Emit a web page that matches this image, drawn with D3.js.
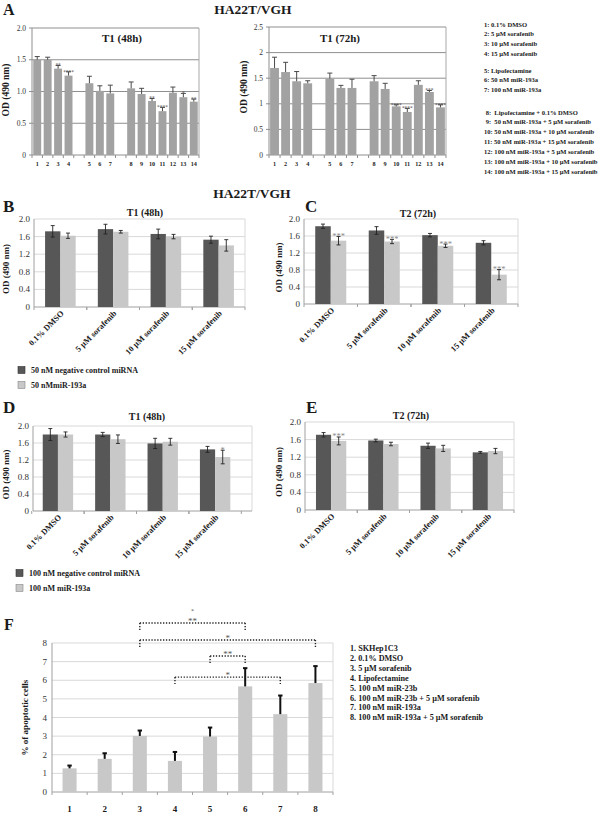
<!DOCTYPE html>
<html><head><meta charset="utf-8">
<script src="https://cdn.jsdelivr.net/npm/d3@7"></script>
<style>
body{margin:0;background:#fff}
text{font-family:"Liberation Serif","Times New Roman",serif;fill:#1a1a1a}
.pre{white-space:pre}
</style>
</head><body><svg id="c" width="600" height="816"></svg>
<script>
// ---------------- DATA ----------------
const cellLine = "HA22T/VGH";
// Panel A
const aCategories = ["1","2","3","4","5","6","7","8","9","10","11","12","13","14"];
const aGroupSizes = [4, 3, 7];
const a48Values = [1.50,1.50,1.36,1.25,1.13,1.01,0.97,1.05,0.96,0.85,0.69,0.98,0.91,0.84];
const a48Errors = [0.05,0.04,0.05,0.06,0.11,0.08,0.13,0.10,0.09,0.04,0.06,0.09,0.06,0.04];
const a48Sig    = ["","","**","****","","","","","","**","****","","*","**"];
const a48Ticks  = [0,0.5,1,1.5,2];
const a48TickLabels = ["0","0.5","1.0","1.5","2.0"];
const a72Values = [1.70,1.62,1.44,1.40,1.49,1.31,1.31,1.44,1.29,0.95,0.84,1.37,1.23,0.93];
const a72Errors = [0.21,0.19,0.19,0.05,0.11,0.05,0.17,0.11,0.11,0.03,0.07,0.08,0.03,0.05];
const a72Sig    = ["","","","","","","","","","****","****","","***","****"];
const a72Ticks  = [0,0.5,1,1.5,2,2.5];
const a72TickLabels = ["0","0.5","1","1.5","2","2.5"];
const aLegend = [
  ["1: 0.1% DMSO","2: 5 µM sorafenib","3: 10 µM sorafenib","4: 15 µM sorafenib"],
  ["5: Lipofectamine","6: 50 nM miR-193a","7: 100 nM miR-193a"],
  [" 8:  Lipofectamine + 0.1% DMSO"," 9:  50 nM miR-193a + 5 µM sorafenib","10: 50 nM miR-193a + 10 µM sorafenib",
   "11: 50 nM miR-193a + 15 µM sorafenib","12: 100 nM miR-193a + 5 µM sorafenib","13: 100 nM miR-193a + 10 µM sorafenib",
   "14: 100 nM miR-193a + 15 µM sorafenib"]
];
// Panels B-E
const treatments = ["0.1% DMSO","5 µM sorafenib","10 µM sorafenib","15 µM sorafenib"];
const groupedTicks = [0,0.4,0.8,1.2,1.6,2.0];
const groupedTickLabels = ["0","0.4","0.8","1.2","1.6","2.0"];
const bControl = [1.72,1.77,1.66,1.53], bControlErr = [0.13,0.11,0.11,0.08];
const bMir     = [1.62,1.71,1.60,1.40], bMirErr     = [0.06,0.03,0.05,0.13];
const bSig     = ["","","",""];
const cControl = [1.83,1.73,1.62,1.44], cControlErr = [0.05,0.09,0.04,0.05];
const cMir     = [1.49,1.47,1.37,0.69], cMirErr     = [0.10,0.05,0.04,0.12];
const cSig     = ["***","***","***","***"];
const dControl = [1.80,1.80,1.59,1.45], dControlErr = [0.14,0.05,0.12,0.07];
const dMir     = [1.80,1.69,1.63,1.27], dMirErr     = [0.06,0.10,0.08,0.16];
const dSig     = ["","","","*"];
const eControl = [1.71,1.58,1.46,1.31], eControlErr = [0.05,0.03,0.06,0.02];
const eMir     = [1.57,1.50,1.40,1.34], eMirErr     = [0.09,0.04,0.07,0.06];
const eSig     = ["***","","",""];
const legend50  = ["50 nM negative control miRNA","50 nMmiR-193a"];
const legend100 = ["100 nM negative control miRNA","100 nM miR-193a"];
// Panel F
const fCategories = ["1","2","3","4","5","6","7","8"];
const fValues = [1.27,1.78,3.01,1.67,2.98,5.67,4.18,5.85];
const fErrors = [0.15,0.30,0.29,0.48,0.48,0.98,1.00,0.91];
const fTicks  = [0,1,2,3,4,5,6,7,8];
const fBrackets = [
  {from:"3", to:"6", level:9.07, label:"**", top:"*"},
  {from:"3", to:"8", level:8.16, label:"*"},
  {from:"5", to:"6", level:7.30, label:"**"},
  {from:"4", to:"7", level:6.17, label:"*"}
];
const fLegend = ["1. SKHep1C3","2. 0.1% DMSO","3. 5 µM sorafenib","4. Lipofectamine","5. 100 nM miR-23b",
  "6. 100 nM miR-23b + 5 µM sorafenib","7. 100 nM miR-193a","8. 100 nM miR-193a + 5 µM sorafenib"];

// ---------------- DRAWING ----------------
const svg = d3.select("#c");
svg.append("rect").attr("width",600).attr("height",816).attr("fill","#fff");

function txt(g,x,y,s,size,opt={}){
  const t = g.append("text").attr("x",x).attr("y",y).text(s)
    .attr("font-size",size).attr("font-weight",opt.bold?"bold":"normal")
    .attr("text-anchor",opt.anchor||"start");
  if(opt.fill) t.style("fill",opt.fill);
  if(opt.cls) t.attr("class",opt.cls);
  return t;
}
function ylab(g,x,cy,s,size){
  g.append("text").attr("transform",`translate(${x},${cy}) rotate(-90)`).attr("dy","0.35em")
   .attr("text-anchor","middle").attr("font-size",size).attr("font-weight","bold").text(s);
}

// Panel A charts
function panelA(cfg){
  const g = svg.append("g");
  const keys = []; let idx = 0;
  aGroupSizes.forEach((n,gi)=>{ if(gi>0) keys.push("gap"+gi); for(let k=0;k<n;k++) keys.push(aCategories[idx++]); });
  const x = d3.scaleBand().domain(keys).range([cfg.x0,cfg.x1]).paddingInner(cfg.pad).paddingOuter(cfg.pad/2);
  const y = d3.scaleLinear().domain([0,d3.max(cfg.ticks)]).range([cfg.y0,cfg.yTop]);
  g.selectAll(".gl").data(cfg.ticks.filter(t=>t>0)).join("line")
    .attr("x1",cfg.x0).attr("x2",cfg.x1).attr("y1",d=>y(d)).attr("y2",d=>y(d))
    .attr("stroke","#8f8f8f").attr("stroke-width",1);
  g.append("line").attr("x1",cfg.x1).attr("x2",cfg.x1).attr("y1",cfg.yTop).attr("y2",cfg.y0).attr("stroke","#a8a8a8");
  g.append("line").attr("x1",cfg.x0).attr("x2",cfg.x0).attr("y1",cfg.yTop).attr("y2",cfg.y0).attr("stroke","#8f8f8f");
  g.append("line").attr("x1",cfg.x0).attr("x2",cfg.x1).attr("y1",cfg.y0).attr("y2",cfg.y0).attr("stroke","#8f8f8f");
  g.selectAll(".yt").data(cfg.ticks).join("line")
    .attr("x1",cfg.x0-3).attr("x2",cfg.x0).attr("y1",d=>y(d)).attr("y2",d=>y(d)).attr("stroke","#8f8f8f");
  cfg.ticks.forEach((t,i)=>txt(g,cfg.x0-6,y(t)+2.5,cfg.tickLabels[i],7.5,{anchor:"end",fill:"#333"}));
  d3.range(keys.length+1).forEach(i=>{
    const xx = cfg.x0 + i*x.step();
    g.append("line").attr("x1",xx).attr("x2",xx).attr("y1",cfg.y0).attr("y2",cfg.y0+3).attr("stroke","#8f8f8f");
  });
  aCategories.forEach((c,i)=>{
    const v = cfg.values[i], e = cfg.errors[i];
    g.append("rect").attr("x",x(c)).attr("width",x.bandwidth()).attr("y",y(v)).attr("height",y(0)-y(v)).attr("fill","#a2a2a2");
    const cx = x(c)+x.bandwidth()/2;
    g.append("line").attr("x1",cx).attr("x2",cx).attr("y1",y(v)).attr("y2",y(v+e)).attr("stroke","#4a4a4a").attr("stroke-width",1);
    g.append("line").attr("x1",cx-2.5).attr("x2",cx+2.5).attr("y1",y(v+e)).attr("y2",y(v+e)).attr("stroke","#4a4a4a").attr("stroke-width",1);
    if(cfg.sig[i]) txt(g,cx,y(v+e)+2,cfg.sig[i],5.4,{anchor:"middle",fill:"#444"});
    txt(g,cx,cfg.y0+11,c,6.2,{anchor:"middle",bold:true});
  });
  txt(g,cfg.titleX,42,cfg.title,11,{anchor:"middle",bold:true});
  ylab(g,cfg.labelX,cfg.labelY,"OD (490 nm)",9.5);
}

panelA({x0:32,x1:199,y0:155,yTop:28,pad:0.24,ticks:a48Ticks,tickLabels:a48TickLabels,values:a48Values,errors:a48Errors,sig:a48Sig,title:"T1 (48h)",titleX:122,labelX:6,labelY:90});
panelA({x0:269,x1:446,y0:155,yTop:27,pad:0.2,ticks:a72Ticks,tickLabels:a72TickLabels,values:a72Values,errors:a72Errors,sig:a72Sig,title:"T1 (72h)",titleX:340,labelX:244,labelY:87});

{
  const g = svg.append("g");
  const starts = [26.5,72.5,114.5];
  aLegend.forEach((grp,gi)=>grp.forEach((s,i)=>txt(g,484,starts[gi]+i*9.9,s,6.55,{bold:true,cls:"pre"})));
}
txt(svg,3,15,"A",16,{bold:true});
txt(svg,253,14,cellLine,13.5,{anchor:"middle",bold:true});
txt(svg,252,198,cellLine,13.5,{anchor:"middle",bold:true});

const darkCol = "#575757", lightCol = "#c8c8c8";
function grouped(cfg){
  const g = svg.append("g");
  const x = d3.scaleBand().domain(treatments).range([cfg.x0,cfg.x1]).paddingInner(0.42).paddingOuter(cfg.po).align(cfg.align);
  const sub = d3.scaleBand().domain(["control","mir"]).range([0,x.bandwidth()]);
  const y = d3.scaleLinear().domain([0,2]).range([cfg.y0,cfg.yTop]);
  g.selectAll(".gl").data(groupedTicks.filter(t=>t>0)).join("line")
    .attr("x1",cfg.x0).attr("x2",cfg.x1).attr("y1",d=>y(d)).attr("y2",d=>y(d)).attr("stroke","#d9d9d9");
  g.append("line").attr("x1",cfg.x1).attr("x2",cfg.x1).attr("y1",cfg.yTop).attr("y2",cfg.y0).attr("stroke","#d9d9d9");
  g.append("line").attr("x1",cfg.x0).attr("x2",cfg.x0).attr("y1",cfg.yTop).attr("y2",cfg.y0).attr("stroke","#a0a0a0");
  g.append("line").attr("x1",cfg.x0).attr("x2",cfg.x1).attr("y1",cfg.y0).attr("y2",cfg.y0).attr("stroke","#a0a0a0");
  const half = x.step()*x.paddingInner()/2;
  treatments.forEach(d=>{
    [x(d)-half, x(d)+x.bandwidth()+half].forEach(xx=>
      g.append("line").attr("x1",xx).attr("x2",xx).attr("y1",cfg.y0).attr("y2",cfg.y0+3).attr("stroke","#a0a0a0"));
  });
  groupedTicks.forEach((t,i)=>txt(g,cfg.x0-4,y(t)+3,groupedTickLabels[i],9,{anchor:"end",fill:"#333"}));
  treatments.forEach((d,i)=>{
    const series = [["control",cfg.control[i],cfg.controlErr[i],darkCol],["mir",cfg.mir[i],cfg.mirErr[i],lightCol]];
    series.forEach(([k,v,e,col])=>{
      const bx = x(d)+sub(k);
      g.append("rect").attr("x",bx).attr("width",sub.bandwidth()).attr("y",y(v)).attr("height",y(0)-y(v)).attr("fill",col);
      const cx = bx+sub.bandwidth()/2;
      g.append("line").attr("x1",cx).attr("x2",cx).attr("y1",y(v-e)).attr("y2",y(v+e)).attr("stroke","#222").attr("stroke-width",0.9);
      [v-e,v+e].forEach(w=>g.append("line").attr("x1",cx-2).attr("x2",cx+2).attr("y1",y(w)).attr("y2",y(w)).attr("stroke","#222").attr("stroke-width",0.9));
      if(k==="mir" && cfg.sig[i]) txt(g,cx,y(v+e)+2.5,cfg.sig[i],8.5,{anchor:"middle",fill:"#8a8a8a"});
    });
    const lx = x(d)+x.bandwidth()/2+4, ly = cfg.y0+7;
    g.append("text").attr("transform",`translate(${lx},${ly}) rotate(-45)`).attr("text-anchor","end")
      .attr("font-size",8.3).attr("font-weight","bold").text(d);
  });
  txt(g,cfg.titleX,cfg.titleY,cfg.title,10,{anchor:"middle",bold:true});
  ylab(g,cfg.labelX,(cfg.y0+cfg.yTop)/2+6,"OD (490 nm)",9);
  txt(g,cfg.letterX,cfg.letterY,cfg.letter,17,{bold:true});
}
grouped({x0:34,x1:245,y0:307,yTop:219,po:0.21,align:0.5,control:bControl,controlErr:bControlErr,mir:bMir,mirErr:bMirErr,sig:bSig,title:"T1 (48h)",titleX:145,titleY:216,labelX:6,letter:"B",letterX:3,letterY:212});
grouped({x0:304,x1:518,y0:304,yTop:219,po:0.21,align:0.5,control:cControl,controlErr:cControlErr,mir:cMir,mirErr:cMirErr,sig:cSig,title:"T2 (72h)",titleX:418,titleY:217,labelX:279,letter:"C",letterX:305,letterY:212});
grouped({x0:33,x1:252,y0:511,yTop:426,po:0.30,align:0.31,control:dControl,controlErr:dControlErr,mir:dMir,mirErr:dMirErr,sig:dSig,title:"T1 (48h)",titleX:147,titleY:420,labelX:6,letter:"D",letterX:3,letterY:413});
grouped({x0:305,x1:514,y0:510,yTop:422,po:0.21,align:0.5,control:eControl,controlErr:eControlErr,mir:eMir,mirErr:eMirErr,sig:eSig,title:"T2 (72h)",titleX:411,titleY:419,labelX:279,letter:"E",letterX:306,letterY:413});

function legend(x,y,items){
  const g = svg.append("g");
  items.forEach((s,i)=>{
    g.append("rect").attr("x",x).attr("y",y+i*15-6.5).attr("width",7).attr("height",7)
      .attr("fill",i===0?darkCol:lightCol).attr("stroke",i===0?"#333":"#888").attr("stroke-width",0.6);
    txt(g,x+13,y+i*15,s,8,{bold:true});
  });
}
legend(18,373,legend50);
legend(16,576,legend100);

{
  const g = svg.append("g");
  const x0=52,x1=333,y0=792,yTop=643;
  const x = d3.scaleBand().domain(fCategories).range([x0,x1]).paddingInner(0.6).paddingOuter(0.3);
  const y = d3.scaleLinear().domain([0,8]).range([y0,yTop]);
  g.selectAll(".gl").data(fTicks.filter(t=>t>0)).join("line")
    .attr("x1",x0).attr("x2",x1).attr("y1",d=>y(d)).attr("y2",d=>y(d)).attr("stroke","#d9d9d9");
  g.append("line").attr("x1",x1).attr("x2",x1).attr("y1",yTop).attr("y2",y0).attr("stroke","#d9d9d9");
  g.append("line").attr("x1",x0).attr("x2",x0).attr("y1",yTop).attr("y2",y0).attr("stroke","#a0a0a0");
  g.append("line").attr("x1",x0).attr("x2",x1).attr("y1",y0).attr("y2",y0).attr("stroke","#a0a0a0");
  d3.range(fCategories.length+1).forEach(i=>{
    const xx = x0+i*x.step();
    g.append("line").attr("x1",xx).attr("x2",xx).attr("y1",y0).attr("y2",y0+3).attr("stroke","#a0a0a0");
  });
  fTicks.forEach(t=>txt(g,x0-5,y(t)+3,String(t),9,{anchor:"end",fill:"#333"}));
  fCategories.forEach((c,i)=>{
    const v=fValues[i], e=fErrors[i], cx=x(c)+x.bandwidth()/2;
    g.append("rect").attr("x",x(c)).attr("width",x.bandwidth()).attr("y",y(v)).attr("height",y(0)-y(v)).attr("fill","#c8c8c8");
    g.append("line").attr("x1",cx).attr("x2",cx).attr("y1",y(v)).attr("y2",y(v+e)).attr("stroke","#111").attr("stroke-width",2);
    g.append("line").attr("x1",cx-2.2).attr("x2",cx+2.2).attr("y1",y(v+e)).attr("y2",y(v+e)).attr("stroke","#111").attr("stroke-width",2);
    txt(g,cx,812,c,9,{anchor:"middle",bold:true});
  });
  const cxOf = c=>x(c)+x.bandwidth()/2;
  fBrackets.forEach(b=>{
    const xa=cxOf(b.from), xb=cxOf(b.to), yy=y(b.level);
    const dot = sel=>sel.attr("stroke","#222").attr("stroke-width",1.4).attr("stroke-dasharray","1.3,1.6");
    dot(g.append("line").attr("x1",xa).attr("x2",xb).attr("y1",yy).attr("y2",yy));
    dot(g.append("line").attr("x1",xa).attr("x2",xa).attr("y1",yy).attr("y2",yy+7));
    dot(g.append("line").attr("x1",xb).attr("x2",xb).attr("y1",yy).attr("y2",yy+7));
    txt(g,(xa+xb)/2,yy+1,b.label,9,{anchor:"middle",fill:"#555"});
    if(b.top) txt(g,(xa+xb)/2,yy-10,b.top,6,{anchor:"middle",fill:"#555"});
  });
  g.append("text").attr("transform",`translate(25,${(y0+yTop)/2})rotate(-90)`).attr("dy","0.35em")
    .attr("text-anchor","middle").attr("font-size",9).attr("font-weight","bold").text("% of apoptotic cells");
  fLegend.forEach((s,i)=>txt(g,350,651+i*9.9,s,8.2,{bold:true}));
  txt(g,4,630,"F",16,{bold:true});
}
</script></body></html>
